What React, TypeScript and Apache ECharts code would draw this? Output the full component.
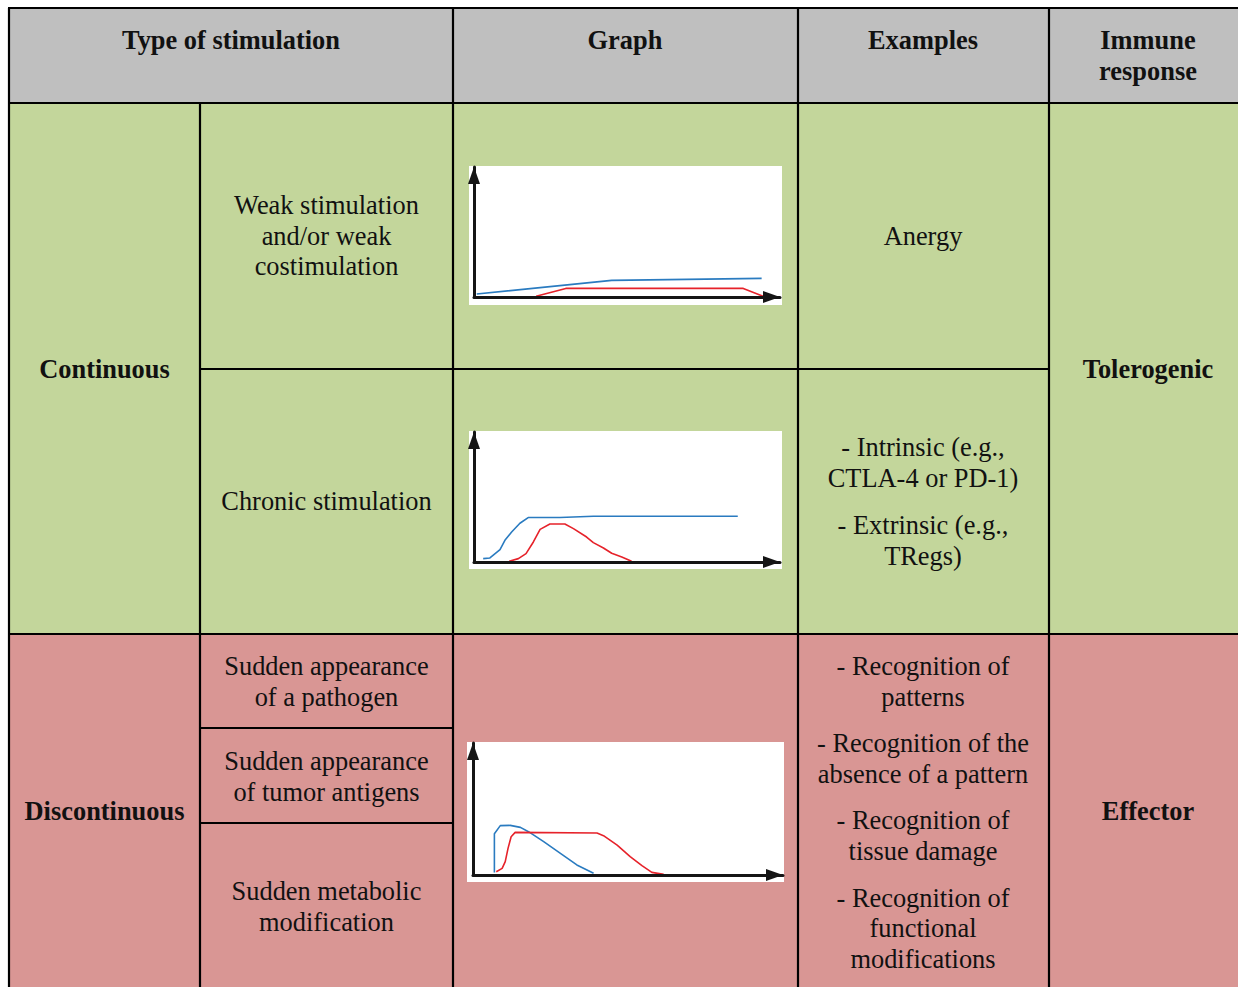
import React, { useEffect, useRef } from "react";
import * as echarts from "echarts";

// ---- Table texts ----
const headers = ["Type of stimulation", "Graph", "Examples", "Immune\nresponse"];
const stimulationTypes = ["Continuous", "Discontinuous"];
const responses = ["Tolerogenic", "Effector"];
const continuousKinds = ["Weak stimulation\nand/or weak\ncostimulation", "Chronic stimulation"];
const discontinuousKinds = [
  "Sudden appearance\nof a pathogen",
  "Sudden appearance\nof tumor antigens",
  "Sudden metabolic\nmodification",
];
const examplesWeak = ["Anergy"];
const examplesChronic = ["- Intrinsic (e.g.,\nCTLA-4 or PD-1)", "- Extrinsic (e.g.,\nTRegs)"];
const examplesDiscontinuous = [
  "- Recognition of\npatterns",
  "- Recognition of the\nabsence of a pattern",
  "- Recognition of\ntissue damage",
  "- Recognition of\nfunctional\nmodifications",
];

// ---- Curve values (time, intensity) on 0..100 scales ----
const weakBlue = [[0.9, 2.3], [45, 12.8], [94, 14.3]];
const weakRed = [[20.3, 0.5], [30, 6.6], [88, 6.6], [95, 0]];
const chronicBlue = [
  [3.0, 2.6], [5.2, 3.1], [8.5, 9.5], [10.1, 16.7], [12.3, 23.1], [15.0, 29.8],
  [17.7, 34.2], [28.1, 34.2], [39, 35.2], [86.2, 35.2],
];
const chronicRed = [
  [11.5, 0.5], [14.5, 2.6], [17, 6.4], [19.4, 15.4], [21.6, 25.1], [24.8, 29.2],
  [29.7, 29.2], [32.5, 25.7], [36.8, 19.2], [39, 14.9], [42.3, 10.8], [45, 6.7],
  [48.3, 3.8], [51.5, 0.5],
];
const discBlue = [
  [6.9, 1.8], [6.9, 31.3], [8.8, 37.4], [12, 37.6], [15.3, 36.1], [17.9, 32.8],
  [22.8, 25.3], [28.2, 16.4], [33.5, 7.6], [38.9, 1.3],
];
const discRed = [
  [7.5, 2.5], [9.4, 5], [10.4, 10.1], [11.3, 20.2], [12.3, 29], [13.6, 32.3],
  [40, 31.8], [42.1, 29.8], [46.5, 22.7], [50.7, 13.9], [54.5, 7.1], [57.7, 2],
  [61.5, 0.5],
];

const GRAY = "#BFBFBF";
const GREEN = "#C3D69B";
const PINK = "#D99694";
const BLUE = "#2A7BC0";
const RED = "#E6222A";
const FONT = '"Liberation Serif", "Times New Roman", serif';

export default function App() {
  const ref = useRef<HTMLDivElement>(null);
  useEffect(() => {
    if (!ref.current) return;
    const chart = echarts.init(ref.current, undefined, { renderer: "svg" });

    const X0 = 9, C1 = 200, C2 = 453, C3 = 798, C4 = 1049, XR = 1240;
    const Y0 = 8, HB = 103, R1 = 369, R2 = 634, D1 = 728, D2 = 823, YB = 990;
    const LH = 30.6;

    const txt = (text: string, x: number, y: number, bold = false) => ({
      type: "text",
      z: 20,
      style: {
        text, x, y: y - 0.8,
        fill: "#111",
        fontSize: 26.4,
        fontFamily: FONT,
        fontWeight: bold ? "bold" : "normal",
        lineHeight: LH,
        align: "center", verticalAlign: "middle",
        textAlign: "center", textVerticalAlign: "middle",
      },
    });
    const rect = (x: number, y: number, w: number, h: number, fill: string) => ({
      type: "rect", z: 1, shape: { x, y, width: w, height: h }, style: { fill },
    });
    const line = (x1: number, y1: number, x2: number, y2: number) => ({
      type: "line", z: 15, shape: { x1, y1, x2, y2 }, style: { stroke: "#000", lineWidth: 2.2 },
    });

    const graphic: any[] = [
      rect(X0, Y0, XR - X0, HB - Y0, GRAY),
      rect(X0, HB, XR - X0, R2 - HB, GREEN),
      rect(X0, R2, XR - X0, YB - R2, PINK),
      rect(469, 166, 313, 139, "#fff"),
      rect(469, 431, 313, 138, "#fff"),
      rect(467, 742, 317, 140, "#fff"),
      line(X0 - 1, Y0, XR, Y0),
      line(X0 - 1, HB, XR, HB),
      line(C1, R1, C4, R1),
      line(X0 - 1, R2, XR, R2),
      line(C1, D1, C2, D1),
      line(C1, D2, C2, D2),
      line(X0, Y0, X0, YB),
      line(C1, HB, C1, YB),
      line(C2, Y0, C2, YB),
      line(C3, Y0, C3, YB),
      line(C4, Y0, C4, YB),
      // headers
      txt(headers[0], 231, 41, true),
      txt(headers[1], 625, 41, true),
      txt(headers[2], 923, 41, true),
      txt(headers[3], 1148, 56.5, true),
      // first column
      txt(stimulationTypes[0], 104.5, 370, true),
      txt(stimulationTypes[1], 104.5, 812, true),
      // second column
      txt(continuousKinds[0], 326.5, 236.5),
      txt(continuousKinds[1], 326.5, 502),
      txt(discontinuousKinds[0], 326.5, 682),
      txt(discontinuousKinds[1], 326.5, 777),
      txt(discontinuousKinds[2], 326.5, 907.5),
      // examples
      txt(examplesWeak[0], 923, 236.5),
      txt(examplesChronic[0], 923, 463.5),
      txt(examplesChronic[1], 923, 541.5),
      txt(examplesDiscontinuous[0], 923, 682),
      txt(examplesDiscontinuous[1], 923, 759.5),
      txt(examplesDiscontinuous[2], 923, 836.5),
      txt(examplesDiscontinuous[3], 923, 929),
      // response
      txt(responses[0], 1148, 370, true),
      txt(responses[1], 1148, 812, true),
    ];

    const grids = [
      { left: 474, top: 167, width: 306, height: 130 },
      { left: 474, top: 432, width: 306, height: 130 },
      { left: 473, top: 743, width: 310, height: 132 },
    ];
    const axisCommon = () => ({
      type: "value",
      min: 0,
      max: 100,
      z: 12,
      axisLabel: { show: false },
      axisTick: { show: false },
      splitLine: { show: false },
      axisLine: {
        show: true,
        onZero: false,
        symbol: ["none", "triangle"],
        symbolSize: [12, 17],
        symbolOffset: [0, -8.5],
        lineStyle: { color: "#151515", width: 3 },
      },
    });
    const curves = [
      [weakBlue, weakRed],
      [chronicBlue, chronicRed],
      [discBlue, discRed],
    ];
    const series: any[] = [];
    curves.forEach((pair, gi) => {
      pair.forEach((data, si) => {
        series.push({
          type: "line",
          xAxisIndex: gi,
          yAxisIndex: gi,
          data,
          showSymbol: false,
          z: 11,
          silent: true,
          lineStyle: { color: si === 0 ? BLUE : RED, width: 1.6 },
          itemStyle: { color: si === 0 ? BLUE : RED },
        });
      });
    });

    chart.setOption({
      animation: false,
      backgroundColor: "#ffffff",
      grid: grids.map((g) => ({ ...g, containLabel: false, outerBoundsMode: "none" })),
      xAxis: grids.map((_, i) => ({ ...axisCommon(), gridIndex: i })),
      yAxis: grids.map((_, i) => ({ ...axisCommon(), gridIndex: i })),
      series,
      graphic,
    });
    return () => chart.dispose();
  }, []);
  return (
    <div
      ref={ref}
      style={{ position: "absolute", left: 0, top: 0, width: 1238, height: 987 }}
    />
  );
}
